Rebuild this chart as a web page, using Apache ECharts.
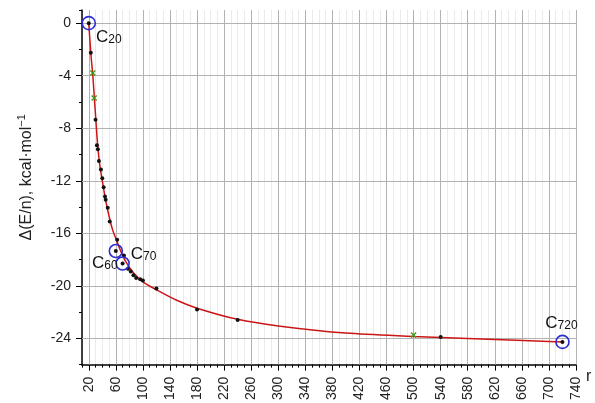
<!DOCTYPE html>
<html><head><meta charset="utf-8">
<script src="https://cdn.jsdelivr.net/npm/echarts@6/dist/echarts.min.js"></script>
<style>html,body{margin:0;padding:0;background:#fff}#c{width:595px;height:403px}</style>
</head><body><div id="c"></div>
<script>
// ---- data ----
const xTickLabels = [20,60,100,140,180,220,260,300,340,380,420,460,500,540,580,620,660,700,740];
const yTickLabels = [0,-4,-8,-12,-16,-20,-24];

// black dots
const dotR = [20,23,30,32,33.5,35,38,40,42,44,45,48,51,60,62,70,72,78,82,86,90,96,100,120,180,240,540,720];
const dotE = [0,-2.25,-7.35,-9.3,-9.6,-10.5,-11.15,-11.8,-12.5,-13.2,-13.45,-14.05,-15.1,-17.35,-16.5,-18.3,-17.7,-18.7,-18.9,-19.2,-19.4,-19.5,-19.6,-20.2,-21.8,-22.6,-23.9,-24.27];

// green crosses
const crossR = [26,28,500];
const crossE = [-3.8,-5.7,-23.75];

// circled fullerenes
const circR = [20,60,70,720];
const circE = [0,-17.35,-18.3,-24.27];
const circNames = ['20','60','70','720'];

// fitted curve
const fitR = [20,23,26,28,30,33,36,40,45,50,55,60,66,74,86,100,120,150,180,240,300,400,500,600,720];
const fitE = [0,-2.25,-4.0,-5.5,-7.0,-9.2,-10.7,-12.0,-13.5,-14.7,-15.7,-16.4,-17.2,-18.1,-19.0,-19.7,-20.3,-21.1,-21.7,-22.55,-23.05,-23.6,-23.85,-24.05,-24.27];

// ---- chart ----
const FONT = '"Liberation Sans", Arial, sans-serif';
const zip = (a, b) => a.map((v, i) => [v, b[i]]);
const labelOffsets = [[20, 13], [-11, 11], [21, -11], [-1, -20]];

const circData = circR.map((r, i) => ({
  value: [r, circE[i]],
  label: {
    show: true,
    position: 'inside',
    offset: labelOffsets[i],
    formatter: '{c|C}{s|' + circNames[i] + '}',
    rich: {
      c: {fontSize: 17, lineHeight: 20, verticalAlign: 'bottom', color: '#111', fontFamily: FONT},
      s: {fontSize: 12, lineHeight: 10, verticalAlign: 'bottom', color: '#111', fontFamily: FONT}
    }
  }
}));

const majorGrid = xTickLabels.map(v => ({xAxis: v})).concat(yTickLabels.map(v => ({yAxis: v})));

const chart = echarts.init(document.getElementById('c'));
chart.setOption({
  animation: false,
  backgroundColor: '#fff',
  grid: {left: 82, right: 19, top: 10, bottom: 37},
  xAxis: [
    {type: 'value', min: 10, max: 740, interval: 10,
     axisLine: {onZero: false, lineStyle: {color: '#000', width: 1.5}},
     axisTick: {length: 3, lineStyle: {color: '#000'}},
     axisLabel: {show: false},
     splitLine: {show: true, lineStyle: {color: '#ebebeb', width: 1, type: 'solid'}}},
    {type: 'value', min: 10, max: 740, position: 'bottom',
     axisLine: {show: false, onZero: false},
     axisTick: {customValues: xTickLabels, length: 6, lineStyle: {color: '#000'}},
     axisLabel: {customValues: xTickLabels, rotate: 90, margin: 12, fontSize: 14, color: '#222', fontFamily: FONT},
     splitLine: {show: false},
     name: 'r', nameLocation: 'end', nameGap: 10,
     nameTextStyle: {fontSize: 16, color: '#222', fontFamily: FONT, verticalAlign: 'top', padding: [4, 0, 0, 0]}}
  ],
  yAxis: [
    {type: 'value', min: -26, max: 1, interval: 2,
     axisLine: {show: true, onZero: false, lineStyle: {color: '#000', width: 1.5}},
     axisTick: {show: true, length: 3, lineStyle: {color: '#000'}},
     axisLabel: {show: false},
     splitLine: {show: false}},
    {type: 'value', min: -26, max: 1, position: 'left',
     axisLine: {show: false, onZero: false},
     axisTick: {show: true, customValues: yTickLabels, length: 6, lineStyle: {color: '#000'}},
     axisLabel: {customValues: yTickLabels, margin: 11, fontSize: 14, color: '#222', fontFamily: FONT},
     splitLine: {show: false},
     name: '{t|Δ(E/n), kcal·mol}{p|−1}', nameLocation: 'middle', nameGap: 47, nameRotate: 90,
     nameTextStyle: {fontSize: 16, color: '#222', fontFamily: FONT, padding: [0, 0, 0, 20],
       rich: {t: {fontSize: 16, fontFamily: FONT, color: '#222', lineHeight: 19, verticalAlign: 'bottom'},
              p: {fontSize: 11, fontFamily: FONT, color: '#222', lineHeight: 19, verticalAlign: 'top'}}}}
  ],
  series: [
    {type: 'scatter', data: [], z: 1, silent: true,
     markLine: {z: 1, silent: true, symbol: 'none', label: {show: false}, animation: false,
       lineStyle: {color: '#b2b2b2', width: 1, type: 'solid'}, emphasis: {disabled: true},
       data: majorGrid}},
    {type: 'line', data: zip(fitR, fitE), showSymbol: false, smooth: 0.3,
     lineStyle: {color: '#cc1616', width: 1.5}, z: 2, silent: true},
    {type: 'scatter', data: zip(dotR, dotE), symbol: 'circle', symbolSize: 4,
     itemStyle: {color: '#111', opacity: 1}, z: 3},
    {type: 'scatter', data: zip(crossR, crossE), symbol: 'path://M0,0L10,10M10,0L0,10', symbolSize: 5,
     itemStyle: {color: 'rgba(0,0,0,0)', borderColor: '#3f9a1c', borderWidth: 1.4, opacity: 1}, z: 4},
    {type: 'scatter', data: circData, symbol: 'circle', symbolSize: 13,
     itemStyle: {color: 'rgba(0,0,0,0)', borderColor: '#2d2dd2', borderWidth: 1.6, opacity: 1}, z: 5}
  ]
});
</script></body></html>
